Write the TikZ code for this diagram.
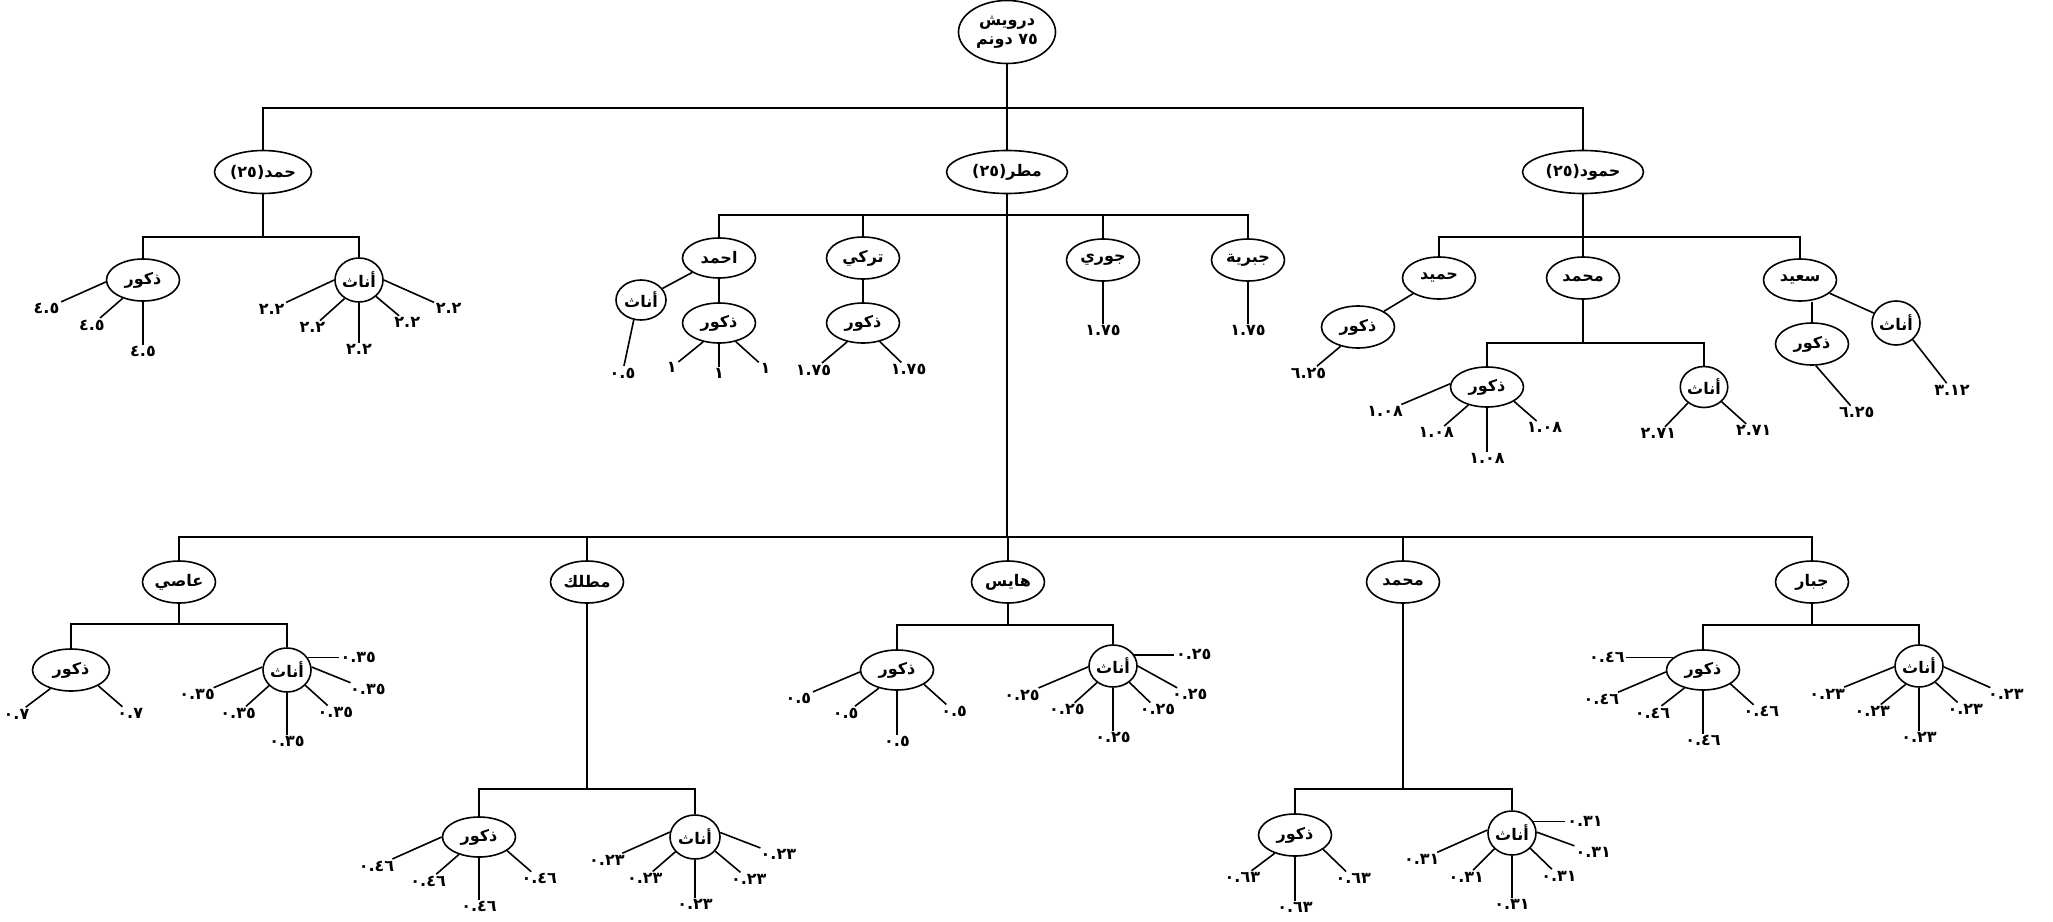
\documentclass[tikz,border=0pt]{standalone}
\usepackage{fontspec}
\newfontfamily\arfont[Script=Arabic]{DejaVu Sans}
\TeXXeTstate=1
\newcommand{\rtl}[1]{\beginR#1\endR}
\usetikzlibrary{shapes.geometric,calc}
\tikzset{
  tr/.style={ellipse, draw, line width=1.6pt, inner sep=0pt,
    font=\arfont\bfseries\fontsize{16}{19}\selectfont},
  nm/.style={tr, minimum width=73pt, minimum height=42pt},
  fm/.style={tr, minimum width=48pt, minimum height=44pt},
  val/.style={inner sep=1pt, font=\arfont\bfseries\fontsize{16}{19}\selectfont},
}
\begin{document}
\begin{tikzpicture}[x=1pt,y=-1pt,line width=1.6pt]
\useasboundingbox (0,0) rectangle (2053,921);
% root and first generation
\node[tr, minimum width=97pt, minimum height=63pt, align=center] (root) at (1007,32)
  {\rtl{درويش}\\\rtl{\beginL٧٥\endL{} دونم}};
\node[tr, minimum width=97pt, minimum height=43pt] (hamad) at (263,172) {\rtl{حمد\beginL(٢٥)\endL}};
\node[tr, minimum width=121pt, minimum height=43pt] (mattar) at (1007,172) {\rtl{مطر\beginL(٢٥)\endL}};
\node[tr, minimum width=121pt, minimum height=43pt] (hamoud) at (1583,172) {\rtl{حمود\beginL(٢٥)\endL}};
\coordinate (b0) at (1007,108);
\draw (root) -- (b0) -- (mattar);
\draw (hamad) |- (b0) -| (hamoud);
% hamad
\node[nm] (hD) at (143,280) {\rtl{ذكور}};
\node[fm] (hF) at (359,280) {\rtl{أناث}};
\coordinate (hb) at (263,237);
\draw (hamad) -- (hb);
\draw (hD) |- (hb) -| (hF);
% mattar, upper branch
\node[nm, minimum height=40pt] (ahmad) at (719,258) {\rtl{احمد}};
\node[nm] (turki) at (863,258) {\rtl{تركي}};
\node[nm] (jouri) at (1103,260) {\rtl{جوري}};
\node[nm] (jabr) at (1248,260) {\rtl{جبرية}};
\coordinate (b1) at (1007,215);
\draw (ahmad) |- (b1) -| (jabr);
\draw (turki) -- (turki |- b1);
\draw (jouri) -- (jouri |- b1);
\node[fm, minimum width=50pt, minimum height=40pt] (aF) at (641,300) {\rtl{أناث}};
\node[nm, minimum height=40pt] (aD) at (719,323) {\rtl{ذكور}};
\draw (ahmad) -- (aF);
\draw (ahmad) -- (aD);
\node[nm, minimum height=40pt] (tD) at (863,323) {\rtl{ذكور}};
\draw (turki) -- (tD);
% hamoud
\node[nm] (hamid) at (1439,278) {\rtl{حميد}};
\node[nm] (mohd) at (1583,278) {\rtl{محمد}};
\node[nm] (said) at (1800,280) {\rtl{سعيد}};
\coordinate (mb) at (1583,237);
\draw (hamoud) -- (mb) -- (mohd);
\draw (hamid) |- (mb) -| (said);
\node[nm] (hmD) at (1358,327) {\rtl{ذكور}};
\draw (hamid) -- (hmD);
\node[nm, minimum height=40pt] (moD) at (1487,387) {\rtl{ذكور}};
\node[fm, minimum width=45pt, minimum height=41pt] (moF) at (1704,387) {\rtl{أناث}};
\coordinate (mob) at (1583,343);
\draw (mohd) -- (mob);
\draw (moD) |- (mob) -| (moF);
\node[nm] (sD) at (1812,344) {\rtl{ذكور}};
\node[fm] (sF) at (1896,323) {\rtl{أناث}};
\draw (said) -- (sF);
\draw (sD) -- (sD |- said.south);
% mattar, lower branch
\coordinate (b2) at (1007,537);
\draw (mattar) -- (b2);
\node[nm] (asi) at (179,582) {\rtl{عاصي}};
\node[nm] (mutlak) at (587,582) {\rtl{مطلك}};
\node[nm] (hayes) at (1008,582) {\rtl{هايس}};
\node[nm] (mhd) at (1403,582) {\rtl{محمد}};
\node[nm] (jabbar) at (1812,582) {\rtl{جبار}};
\draw (asi) |- (b2) -| (jabbar);
\draw (mutlak) -- (mutlak |- b2);
\draw (hayes) -- (hayes |- b2);
\draw (mhd) -- (mhd |- b2);
\node[nm, minimum width=77pt] (aaD) at (71,670) {\rtl{ذكور}};
\node[fm] (aaF) at (287,670) {\rtl{أناث}};
\coordinate (ab) at (179,624);
\draw (asi) -- (ab);
\draw (aaD) |- (ab) -| (aaF);
\node[nm, minimum height=40pt] (muD) at (479,837) {\rtl{ذكور}};
\node[fm, minimum width=50pt] (muF) at (695,837) {\rtl{أناث}};
\coordinate (mub) at (587,789);
\draw (mutlak) -- (mub);
\draw (muD) |- (mub) -| (muF);
\node[nm, minimum height=40pt] (hyD) at (897,670) {\rtl{ذكور}};
\node[fm, minimum height=42pt] (hyF) at (1113,666) {\rtl{أناث}};
\coordinate (hyb) at (1008,625);
\draw (hayes) -- (hyb);
\draw (hyD) |- (hyb) -| (hyF);
\node[nm] (m2D) at (1295,835) {\rtl{ذكور}};
\node[fm] (m2F) at (1512,833) {\rtl{أناث}};
\coordinate (m2b) at (1403,789);
\draw (mhd) -- (m2b);
\draw (m2D) |- (m2b) -| (m2F);
\node[nm, minimum height=40pt] (jD) at (1703,670) {\rtl{ذكور}};
\node[fm, minimum height=42pt] (jF) at (1919,666) {\rtl{أناث}};
\coordinate (jb) at (1812,625);
\draw (jabbar) -- (jb);
\draw (jD) |- (jb) -| (jF);
% shares: start angle / direction / length
\foreach \s/\d/\r [count=\i, evaluate=\d as \b using {int(mod(\d+180,360))}] in {183/204/49, 222/221/30, 270/270/43}
  {\node[val, anchor=\b] (hD-\i) at ($(hD.\s)+(\d:\r pt)$) {٤.٥}; \draw (hD.\s) -- (hD-\i.\b);}
\foreach \s/\d/\r [count=\i, evaluate=\d as \b using {int(mod(\d+180,360))}] in {180/205/53, 232/222/33, 270/270/40, 316/320/30, 0/336/55}
  {\node[val, anchor=\b] (hF-\i) at ($(hF.\s)+(\d:\r pt)$) {٢.٢}; \draw (hF.\s) -- (hF-\i.\b);}
\foreach \s/\d/\r [count=\i, evaluate=\d as \b using {int(mod(\d+180,360))}] in {250/258/47}
  {\node[val, anchor=\b] (aF-\i) at ($(aF.\s)+(\d:\r pt)$) {٠.٥}; \draw (aF.\s) -- (aF-\i.\b);}
\foreach \s/\d/\r [count=\i, evaluate=\d as \b using {int(mod(\d+180,360))}] in {230/219/32, 270/270/23, 312/318/31}
  {\node[val, anchor=\b] (aD-\i) at ($(aD.\s)+(\d:\r pt)$) {١}; \draw (aD.\s) -- (aD-\i.\b);}
\foreach \s/\d/\r [count=\i, evaluate=\d as \b using {int(mod(\d+180,360))}] in {230/220/33, 312/316/30}
  {\node[val, anchor=\b] (tD-\i) at ($(tD.\s)+(\d:\r pt)$) {١.٧٥}; \draw (tD.\s) -- (tD-\i.\b);}
\node[val, anchor=north] (jouri-1) at ($(jouri.south)+(0,42)$) {١.٧٥};
\draw (jouri) -- (jouri-1);
\node[val, anchor=north] (jabr-1) at ($(jabr.south)+(0,42)$) {١.٧٥};
\draw (jabr) -- (jabr-1);
\foreach \s/\d/\r [count=\i, evaluate=\d as \b using {int(mod(\d+180,360))}] in {228/220/31}
  {\node[val, anchor=\b] (hmD-\i) at ($(hmD.\s)+(\d:\r pt)$) {٦.٢٥}; \draw (hmD.\s) -- (hmD-\i.\b);}
\foreach \s/\d/\r [count=\i, evaluate=\d as \b using {int(mod(\d+180,360))}] in {175/203/53, 224/221/32, 270/270/44, 332/319/30}
  {\node[val, anchor=\b] (moD-\i) at ($(moD.\s)+(\d:\r pt)$) {١.٠٨}; \draw (moD.\s) -- (moD-\i.\b);}
\foreach \s/\d/\r [count=\i, evaluate=\d as \b using {int(mod(\d+180,360))}] in {225/226/33, 320/318/33}
  {\node[val, anchor=\b] (moF-\i) at ($(moF.\s)+(\d:\r pt)$) {٢.٧١}; \draw (moF.\s) -- (moF-\i.\b);}
\foreach \s/\d/\r [count=\i, evaluate=\d as \b using {int(mod(\d+180,360))}] in {280/311/53}
  {\node[val, anchor=\b] (sD-\i) at ($(sD.\s)+(\d:\r pt)$) {٦.٢٥}; \draw (sD.\s) -- (sD-\i.\b);}
\foreach \s/\d/\r [count=\i, evaluate=\d as \b using {int(mod(\d+180,360))}] in {315/308/55}
  {\node[val, anchor=\b] (sF-\i) at ($(sF.\s)+(\d:\r pt)$) {٣.١٢}; \draw (sF.\s) -- (sF-\i.\b);}
\foreach \s/\d/\r [count=\i, evaluate=\d as \b using {int(mod(\d+180,360))}] in {222/217/31, 330/319/32}
  {\node[val, anchor=\b] (aaD-\i) at ($(aaD.\s)+(\d:\r pt)$) {٠.٧}; \draw (aaD.\s) -- (aaD-\i.\b);}
\foreach \s/\d/\r [count=\i, evaluate=\d as \b using {int(mod(\d+180,360))}] in {31/0/31, 7/338/42, 320/318/30, 270/270/42, 221/222/31, 173/203/53}
  {\node[val, anchor=\b] (aaF-\i) at ($(aaF.\s)+(\d:\r pt)$) {٠.٣٥}; \draw (aaF.\s) -- (aaF-\i.\b);}
\foreach \s/\d/\r [count=\i, evaluate=\d as \b using {int(mod(\d+180,360))}] in {180/204/54, 221/221/30, 270/270/42, 334/319/32}
  {\node[val, anchor=\b] (muD-\i) at ($(muD.\s)+(\d:\r pt)$) {٠.٤٦}; \draw (muD.\s) -- (muD-\i.\b);}
\foreach \s/\d/\r [count=\i, evaluate=\d as \b using {int(mod(\d+180,360))}] in {169/204/52, 217/221/30, 270/270/38, 325/320/33, 10/339/43}
  {\node[val, anchor=\b] (muF-\i) at ($(muF.\s)+(\d:\r pt)$) {٠.٢٣}; \draw (muF.\s) -- (muF-\i.\b);}
\foreach \s/\d/\r [count=\i, evaluate=\d as \b using {int(mod(\d+180,360))}] in {183/203/51, 225/217/30, 270/270/44, 332/318/30}
  {\node[val, anchor=\b] (hyD-\i) at ($(hyD.\s)+(\d:\r pt)$) {٠.٥}; \draw (hyD.\s) -- (hyD-\i.\b);}
\foreach \s/\d/\r [count=\i, evaluate=\d as \b using {int(mod(\d+180,360))}] in {28/0/40, 0/331/45, 315/316/29, 270/270/43, 226/222/30, 182/203/54}
  {\node[val, anchor=\b] (hyF-\i) at ($(hyF.\s)+(\d:\r pt)$) {٠.٢٥}; \draw (hyF.\s) -- (hyF-\i.\b);}
\foreach \s/\d/\r [count=\i, evaluate=\d as \b using {int(mod(\d+180,360))}] in {222/217/29, 270/270/44, 333/316/32}
  {\node[val, anchor=\b] (m2D-\i) at ($(m2D.\s)+(\d:\r pt)$) {٠.٦٣}; \draw (m2D.\s) -- (m2D-\i.\b);}
\foreach \s/\d/\r [count=\i, evaluate=\d as \b using {int(mod(\d+180,360))}] in {28/0/32, 2/340/40, 320/316/30, 270/270/42, 222/225/30, 173/204/55}
  {\node[val, anchor=\b] (m2F-\i) at ($(m2F.\s)+(\d:\r pt)$) {٠.٣١}; \draw (m2F.\s) -- (m2F-\i.\b);}
\foreach \s/\d/\r [count=\i, evaluate=\d as \b using {int(mod(\d+180,360))}] in {157/180/47, 183/203/52, 224/218/29, 270/270/43, 333/318/31}
  {\node[val, anchor=\b] (jD-\i) at ($(jD.\s)+(\d:\r pt)$) {٠.٤٦}; \draw (jD.\s) -- (jD-\i.\b);}
\foreach \s/\d/\r [count=\i, evaluate=\d as \b using {int(mod(\d+180,360))}] in {182/202/54, 234/219/32, 270/270/43, 315/318/30, 358/336/51}
  {\node[val, anchor=\b] (jF-\i) at ($(jF.\s)+(\d:\r pt)$) {٠.٢٣}; \draw (jF.\s) -- (jF-\i.\b);}
\end{tikzpicture}
\end{document}
